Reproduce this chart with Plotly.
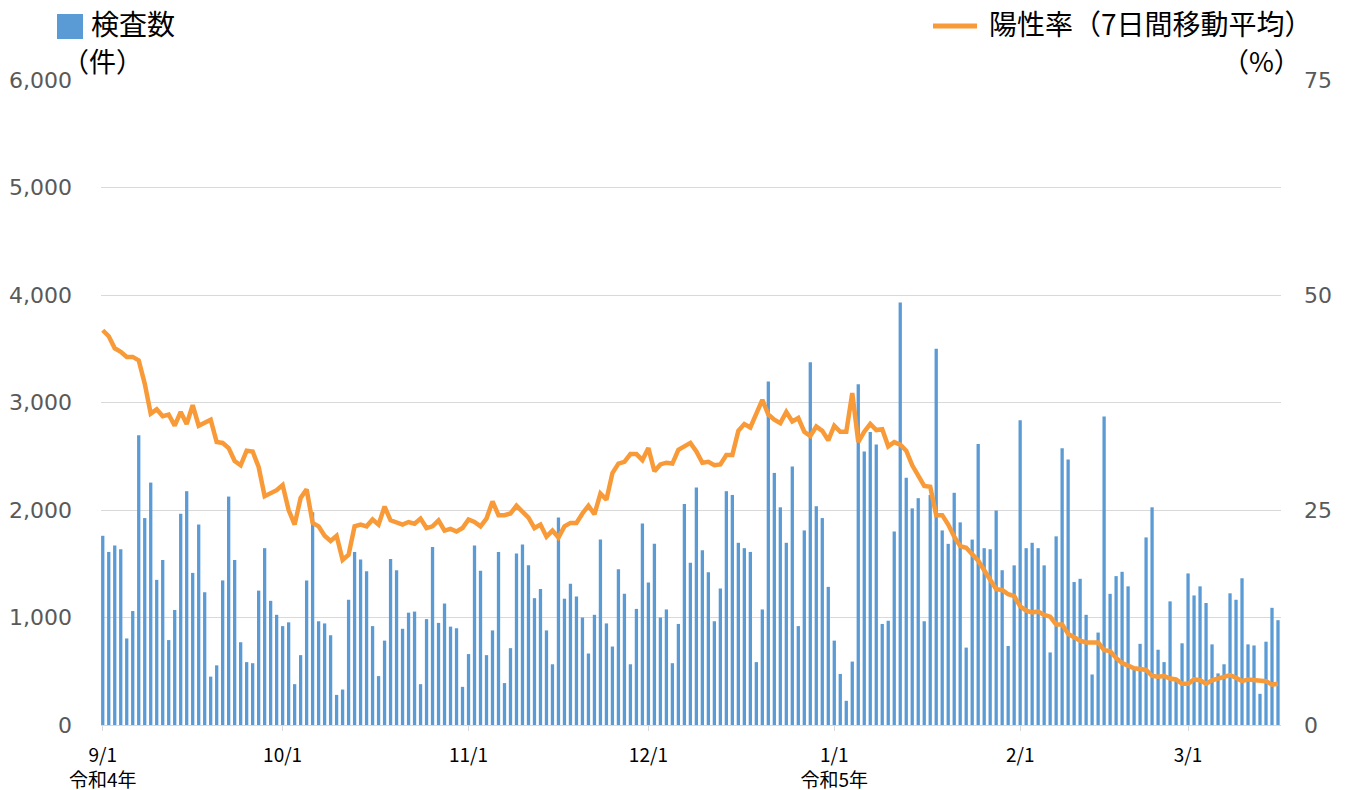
import pandas as pd
import plotly.graph_objects as go

start_date = "2022-09-01"
end_date = "2023-03-16"
dates = pd.date_range(start_date, end_date, freq="D")

# 検査数（件） daily
tests = [
    1760, 1610, 1670, 1635, 805, 1060, 2695, 1925, 2255, 1350, 1535, 790, 1070, 1965, 2175, 1415, 1865, 1235, 450, 555, 1345, 2125, 1535, 770,
    585, 575, 1250, 1645, 1155, 1025, 920, 955, 380, 650, 1345, 1980, 965, 945, 835, 280, 330, 1165, 1610, 1540, 1430, 920, 455, 785, 1545,
    1440, 895, 1045, 1055, 380, 985, 1655, 950, 1130, 915, 900, 355, 660, 1670, 1435, 650, 880, 1610, 390, 715, 1595, 1680, 1485, 1180, 1265,
    880, 565, 1930, 1175, 1315, 1195, 1000, 665, 1025, 1725, 945, 730, 1450, 1220, 565, 1080, 1875, 1325, 1685, 1000, 1075, 575, 940, 2055, 1510,
    2210, 1625, 1420, 965, 1270, 2175, 2140, 1695, 1645, 1610, 585, 1075, 3195, 2345, 2025, 1695, 2405, 920, 1810, 3375, 2035, 1925, 1285, 785, 475,
    225, 590, 3170, 2545, 2725, 2610, 940, 970, 1800, 3930, 2300, 2015, 2110, 965, 2140, 3500, 1810, 1685, 2160, 1885, 720, 1725, 2615, 1645, 1635,
    1995, 1440, 735, 1485, 2835, 1645, 1695, 1645, 1485, 675, 1755, 2575, 2470, 1330, 1360, 1025, 470, 860, 2870, 1220, 1385, 1425, 1290, 525, 755,
    1745, 2025, 700, 585, 1150, 430, 760, 1410, 1205, 1290, 1135, 750, 480, 565, 1225, 1165, 1365, 750, 740, 290, 775, 1090, 975,
]

# 陽性率（7日間移動平均）(%)
positivity = [
    45.9, 45.2, 43.8, 43.4, 42.8, 42.8, 42.4, 39.7, 36.2, 36.7, 35.9, 36.1, 34.8, 36.4, 35.0, 37.2, 34.8, 35.2, 35.5, 32.9, 32.8, 32.2, 30.7, 30.2,
    31.9, 31.8, 30.0, 26.6, 26.9, 27.3, 27.9, 25.0, 23.3, 26.4, 27.4, 23.5, 23.1, 22.0, 21.4, 22.0, 19.2, 19.8, 23.1, 23.3, 23.1, 23.9, 23.3, 25.4, 23.8,
    23.5, 23.3, 23.6, 23.4, 24.0, 22.9, 23.1, 23.8, 22.6, 22.8, 22.5, 22.9, 23.9, 23.6, 23.1, 24.0, 26.0, 24.4, 24.4, 24.6, 25.5, 24.8, 24.1, 22.9, 23.3,
    21.9, 22.6, 21.8, 23.1, 23.5, 23.5, 24.6, 25.5, 24.5, 26.9, 26.2, 29.3, 30.4, 30.6, 31.5, 31.5, 30.8, 32.2, 29.5, 30.3, 30.5, 30.4, 32.0, 32.4, 32.8,
    31.8, 30.5, 30.6, 30.2, 30.3, 31.4, 31.4, 34.2, 35.0, 34.6, 36.2, 37.8, 36.1, 35.5, 35.1, 36.4, 35.3, 35.7, 34.1, 33.6, 34.7, 34.2, 33.1, 34.8, 34.1,
    34.1, 38.6, 32.9, 34.1, 35.0, 34.3, 34.4, 32.4, 32.9, 32.6, 31.9, 30.2, 28.9, 27.8, 27.7, 24.4, 24.4, 23.3, 21.9, 20.8, 20.6, 19.8, 19.1, 18.0, 16.9,
    15.8, 15.7, 15.2, 15.0, 13.8, 13.3, 13.1, 13.2, 12.8, 12.6, 11.7, 11.7, 10.6, 10.2, 9.8, 9.6, 9.6, 9.6, 8.7, 8.6, 7.8, 7.2, 6.9, 6.6, 6.5,
    6.4, 5.7, 5.6, 5.7, 5.4, 5.3, 4.8, 4.8, 5.3, 5.2, 4.8, 5.2, 5.4, 5.5, 5.8, 5.5, 5.1, 5.3, 5.2, 5.2, 5.1, 4.7, 4.8,
]

tick_dates = ["2022-09-01", "2022-10-01", "2022-11-01", "2022-12-01", "2023-01-01", "2023-02-01", "2023-03-01"]
tick_labels = ["9/1<br>令和4年", "10/1", "11/1", "12/1", "1/1<br>令和5年", "2/1", "3/1"]

bar_name = "検査数"
bar_unit = "（件）"
line_name = "陽性率（7日間移動平均）"
line_unit = "（%）"

BLUE = "#5B9BD5"
ORANGE = "#F99A38"
GRID = "#D9D9D9"
TICK = "#595959"
JP = "Noto Sans CJK JP"

fig = go.Figure()
fig.add_trace(go.Bar(x=dates, y=tests, name=bar_name, marker=dict(color=BLUE, line=dict(width=0)),
                     yaxis="y"))
fig.add_trace(go.Scatter(x=dates, y=positivity, name=line_name, mode="lines",
                         line=dict(color=ORANGE, width=4.5), yaxis="y2"))

L, R, T, B = 101, 70, 80, 65
W, H = 1351 - L - R, 790 - T - B

def px(x):
    return (x - L) / W

def py(y):
    return (790 - B - y) / H

fig.update_layout(
    width=1351, height=790,
    margin=dict(l=L, r=R, t=T, b=B, pad=0, autoexpand=False),
    paper_bgcolor="white", plot_bgcolor="white",
    showlegend=False,
    bargap=0.45,
    font=dict(family=JP, color="black"),
    xaxis=dict(
        type="date", automargin=False,
        range=["2022-08-31 17:00", "2023-03-16 12:00"],
        tickvals=tick_dates, ticktext=tick_labels,
        showgrid=False, showline=True, linecolor=GRID, linewidth=1,
        ticks="outside", ticklen=5, tickcolor=GRID,
        tickfont=dict(family=JP, size=19, color="black"),
        ticklabelstandoff=8,
        zeroline=False,
    ),
    yaxis=dict(
        automargin=False,
        range=[0, 6000], dtick=1000, tickformat=",",
        showgrid=True, gridcolor=GRID, gridwidth=1, zeroline=False,
        tickfont=dict(family="DejaVu Sans", size=22, color=TICK),
        ticklabelstandoff=28,
    ),
    yaxis2=dict(
        automargin=False,
        range=[0, 75], dtick=25, overlaying="y", side="right",
        showgrid=False, zeroline=False,
        tickfont=dict(family="DejaVu Sans", size=22, color=TICK),
        ticklabelstandoff=22,
    ),
    shapes=[
        dict(type="rect", xref="paper", yref="paper", x0=px(57), x1=px(83), y0=py(39), y1=py(14),
             fillcolor=BLUE, line=dict(width=0)),
        dict(type="line", xref="paper", yref="paper", x0=px(933), x1=px(977), y0=py(26), y1=py(26),
             line=dict(color=ORANGE, width=5)),
    ],
    annotations=[
        dict(text=bar_name, xref="paper", yref="paper", x=px(90), y=py(23), xanchor="left", yanchor="middle",
             showarrow=False, borderpad=0, font=dict(family=JP, size=28, color="black")),
        dict(text=bar_unit, xref="paper", yref="paper", x=px(61), y=py(61), xanchor="left", yanchor="middle",
             showarrow=False, borderpad=0, font=dict(family=JP, size=27, color="black")),
        dict(text=line_name, xref="paper", yref="paper", x=px(1314), y=py(23), xanchor="right", yanchor="middle",
             showarrow=False, borderpad=0, font=dict(family=JP, size=28, color="black")),
        dict(text=line_unit, xref="paper", yref="paper", x=px(1302), y=py(61), xanchor="right", yanchor="middle",
             showarrow=False, borderpad=0, font=dict(family=JP, size=27, color="black")),
    ],
)

fig.write_html("out.html", config={"displayModeBar": False},
               post_script="document.body.style.margin='0';")
